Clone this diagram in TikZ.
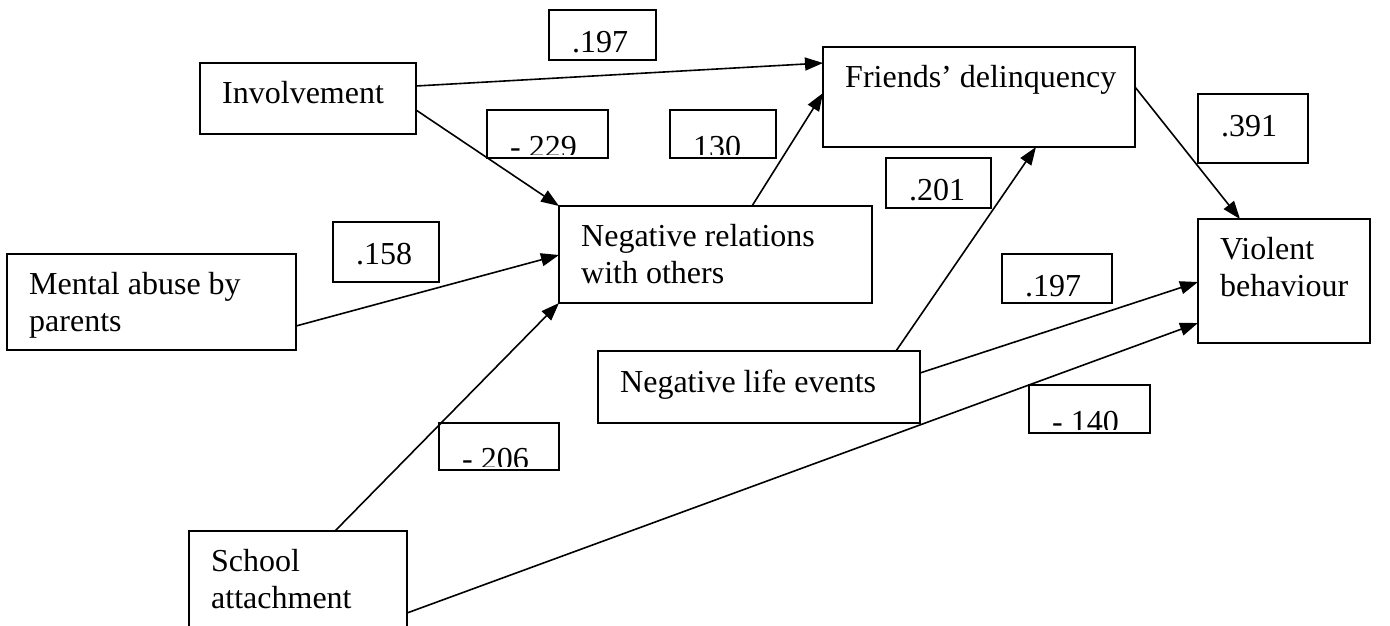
\documentclass[tikz,border=0pt]{standalone}
\usepackage{fontspec}
\setmainfont{Liberation Serif}
\usetikzlibrary{arrows.meta,calc,fit}

\tikzset{
  box/.style={draw, line width=1.6pt, inner sep=0pt, outer sep=0pt},
  txt/.style={inner sep=0pt, align=left, font=\fontsize{32}{37}\selectfont},
  arr/.style={line width=1.6pt, -{Triangle[length=18pt,width=13pt]}},
}

% variable box: name, x1, y1, x2, y2, text
\newcommand\varbox[6]{%
  \node[box, fit={(#2,#3) (#4,#5)}] (#1) {};
  \node[txt, anchor=north west] (#1-t) at ($(#1.north west)+(22,18.5)$) {#6};
}
% coefficient box: name, x1, y1, x2, y2, text
\newcommand\coefbox[6]{%
  \node[box, fit={(#2,#3) (#4,#5)}] (#1) {};
  \node[txt, anchor=base west] (#1-t) at ($(#1.north west)+(23,42)$) {#6};
}
% coefficient box whose text runs past its lower edge
\newcommand\cutbox[6]{%
  \node[box, fit={(#2,#3) (#4,#5)}] (#1) {};
  \begin{scope}
    \clip (#2,#3) rectangle (#4,#5-4);
    \node[txt, anchor=base west] (#1-t) at ($(#1.south west)+(23,-1)$) {#6};
  \end{scope}
}

\begin{document}
\begin{tikzpicture}[x=1pt, y=-1pt]
  \useasboundingbox (0,0) rectangle (1390,625);
  \clip (0,0) rectangle (1390,625);

  % variables
  \varbox{inv}{200}{63}{416}{134}{Involvement}
  \varbox{fri}{823}{47}{1135}{147}{Friends’ delinquency}
  \varbox{neg}{559}{206}{872}{303}{Negative relations\\with others}
  \varbox{mab}{7}{254}{296}{350}{Mental abuse by\\parents}
  \varbox{vio}{1198}{219}{1370}{343}{Violent\\behaviour}
  \varbox{nle}{598}{351}{920}{423}{Negative life events}
  \varbox{sch}{189}{531}{407}{660}{School\\attachment}

  % path coefficients
  \coefbox{c1}{549}{10}{656}{60}{.197}
  \cutbox{c2}{487}{110}{608}{158}{- 229}
  \cutbox{c3}{670}{110}{776}{158}{130}
  \coefbox{c4}{1198}{94}{1308}{163}{.391}
  \coefbox{c5}{886}{158}{991}{208}{.201}
  \coefbox{c6}{333}{222}{439}{282}{.158}
  \coefbox{c7}{1002}{254}{1112}{303}{.197}
  \cutbox{c8}{439}{423}{559}{470}{- 206}
  \cutbox{c9}{1029}{385}{1150}{433}{- 140}

  % paths
  \draw[arr] ($(inv.north east)+(0,23)$) -- ($(fri.north west)+(0,16)$);
  \draw[arr] ($(inv.north east)+(0,47)$) -- (neg.north west);
  \draw[arr] ($(neg.north west)+(193,0)$) -- ($(fri.north west)+(0,46)$);
  \draw[arr] ($(fri.north east)+(0,40)$) -- ($(vio.north west)+(42,0)$);
  \draw[arr] ($(mab.north east)+(0,72)$) -- ($(neg.north west)+(0,49)$);
  \draw[arr] ($(sch.north west)+(146,0)$) -- (neg.south west);
  \draw[arr] ($(sch.north east)+(0,82)$) -- ($(vio.north west)+(0,104)$);
  \draw[arr] ($(nle.north east)+(-24,0)$) -- ($(fri.south west)+(213,0)$);
  \draw[arr] ($(nle.north east)+(0,22)$) -- ($(vio.north west)+(0,63)$);
\end{tikzpicture}
\end{document}
